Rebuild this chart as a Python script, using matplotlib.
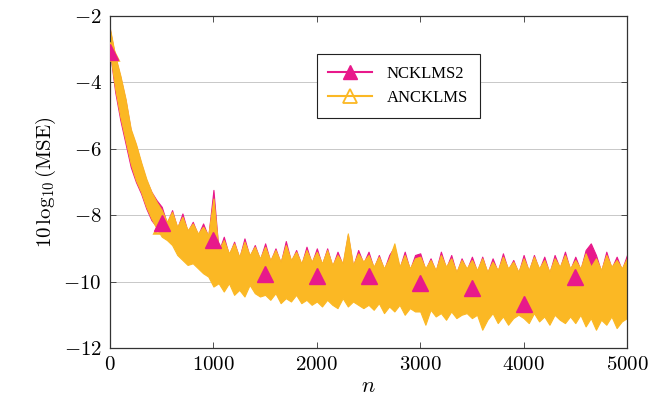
import matplotlib
matplotlib.use("Agg")
import matplotlib.pyplot as plt
from matplotlib.lines import Line2D

plt.rcParams['mathtext.fontset'] = 'cm'
plt.rcParams['font.family'] = ['Liberation Serif', 'DejaVu Serif']

# the curves are very noisy (one sample per n), so each one is kept as the
# upper / lower edge of its noise band, read every 50 samples
n = list(range(0, 5001, 50))

nck_hi = [
    -2.45, -3.25, -3.85, -4.55, -5.45, -5.90, -6.45, -6.95, -7.30, -7.55,
    -7.75, -8.25, -7.85, -8.40, -7.95, -8.50, -8.20, -8.60, -8.25, -8.65,
    -7.24, -9.10, -8.65, -9.20, -8.80, -9.30, -8.70, -9.25, -8.90, -9.35,
    -8.85, -9.40, -9.00, -9.45, -8.78, -9.40, -9.05, -9.50, -8.95, -9.45,
    -9.00, -9.50, -9.00, -9.55, -9.10, -9.50, -8.60, -9.55, -9.05, -9.45,
    -9.10, -9.60, -9.20, -9.65, -9.20, -8.95, -9.60, -9.10, -9.65, -9.20,
    -9.15, -9.65, -9.30, -9.70, -9.10, -9.60, -9.20, -9.75, -9.30, -9.65,
    -9.25, -9.70, -9.25, -9.75, -9.30, -9.70, -9.15, -9.65, -9.35, -9.75,
    -9.20, -9.70, -9.20, -9.65, -9.25, -9.75, -9.20, -9.60, -9.10, -9.65,
    -9.25, -9.65, -9.05, -8.85, -9.20, -9.70, -9.10, -9.60, -9.25, -9.65,
    -9.20,
]
nck_lo = [
    -3.10, -4.30, -5.15, -5.85, -6.55, -7.00, -7.35, -7.80, -8.15, -8.35,
    -8.50, -8.60, -8.75, -9.00, -9.15, -9.30, -9.25, -9.40, -9.55, -9.65,
    -9.95, -9.85, -10.10, -9.85, -10.20, -10.05, -10.25, -9.90, -10.15, -10.25,
    -10.20, -10.35, -10.15, -10.45, -10.30, -10.40, -10.20, -10.45, -10.35, -10.50,
    -10.40, -10.55, -10.35, -10.50, -10.60, -10.30, -10.55, -10.40, -10.50, -10.60,
    -10.50, -10.65, -10.45, -10.75, -10.55, -10.70, -10.50, -10.80, -10.60, -10.70,
    -10.70, -11.10, -10.65, -10.85, -10.75, -10.95, -10.70, -10.90, -10.80, -10.75,
    -10.90, -10.80, -11.25, -10.95, -10.75, -11.05, -10.85, -11.10, -10.90, -10.80,
    -10.90, -11.05, -10.75, -11.00, -10.85, -11.10, -10.80, -10.95, -11.05, -10.85,
    -11.05, -10.80, -11.15, -10.90, -11.25, -10.95, -11.10, -10.85, -11.20, -11.00,
    -10.90,
]

anc_hi = [
    -2.40, -3.20, -3.80, -4.50, -5.40, -5.85, -6.40, -6.90, -7.30, -7.60,
    -7.85, -8.20, -7.90, -8.35, -8.05, -8.45, -8.25, -8.55, -8.35, -8.60,
    -7.50, -9.05, -8.75, -9.15, -8.85, -9.25, -8.80, -9.20, -8.95, -9.30,
    -8.95, -9.35, -9.05, -9.40, -8.90, -9.35, -9.10, -9.45, -9.05, -9.40,
    -9.10, -9.45, -9.05, -9.50, -9.20, -9.45, -8.55, -9.50, -9.15, -9.40,
    -9.20, -9.55, -9.25, -9.60, -9.30, -8.85, -9.55, -9.20, -9.60, -9.30,
    -9.25, -9.60, -9.35, -9.65, -9.20, -9.55, -9.30, -9.70, -9.35, -9.60,
    -9.35, -9.65, -9.30, -9.70, -9.40, -9.65, -9.25, -9.60, -9.40, -9.70,
    -9.30, -9.65, -9.25, -9.60, -9.35, -9.70, -9.30, -9.55, -9.20, -9.60,
    -9.35, -9.60, -9.15, -9.55, -9.30, -9.65, -9.20, -9.55, -9.35, -9.60,
    -9.30,
]
anc_lo = [
    -3.10, -4.20, -5.05, -5.75, -6.45, -6.95, -7.30, -7.75, -8.10, -8.40,
    -8.65, -8.75, -8.90, -9.20, -9.35, -9.50, -9.45, -9.60, -9.75, -9.85,
    -10.15, -10.05, -10.30, -10.05, -10.40, -10.25, -10.45, -10.10, -10.35, -10.45,
    -10.40, -10.55, -10.35, -10.65, -10.50, -10.60, -10.40, -10.65, -10.55, -10.70,
    -10.60, -10.75, -10.55, -10.70, -10.80, -10.50, -10.75, -10.60, -10.70, -10.80,
    -10.70, -10.85, -10.65, -10.95, -10.75, -10.90, -10.70, -11.00, -10.80, -10.90,
    -10.90, -11.30, -10.85, -11.05, -10.95, -11.15, -10.90, -11.10, -11.00, -10.95,
    -11.10, -11.00, -11.45, -11.15, -10.95, -11.25, -11.05, -11.30, -11.10, -11.00,
    -11.10, -11.25, -10.95, -11.20, -11.05, -11.30, -11.00, -11.15, -11.25, -11.05,
    -11.25, -11.00, -11.35, -11.10, -11.45, -11.15, -11.30, -11.05, -11.40, -11.20,
    -11.10,
]

# curve values at the marked samples
mark_n = [0, 500, 1000, 1500, 2000, 2500, 3000, 3500, 4000, 4500]
nck_mark = [-3.10, -8.25, -8.75, -9.78, -9.83, -9.82, -10.05, -10.20, -10.68, -9.85]
anc_mark = [-3.10, -8.30, -9.40, -9.75, -9.90, -9.95, -10.10, -10.25, -10.45, -10.20]

labels = ['NCKLMS2', 'ANCKLMS']
x_ticks = [0, 1000, 2000, 3000, 4000, 5000]
y_ticks = [-12, -10, -8, -6, -4, -2]

magenta = '#e8198b'
orange = '#fbb824'

fig = plt.figure(figsize=(6.67, 4.07), dpi=100)
ax = fig.add_axes([0.165, 0.145, 0.775, 0.816])

ax.fill_between(n, nck_lo, nck_hi, color=magenta, lw=0.8, zorder=2)
ax.fill_between(n, anc_lo, anc_hi, color=orange, lw=0.8, zorder=2.1)
ax.plot(mark_n, anc_mark, ls='none', marker='^', ms=12, mfc='none', mec=orange, mew=1.8,
        zorder=2.95)
ax.plot(mark_n, nck_mark, ls='none', marker='^', ms=11, color=magenta, zorder=3)

ax.set_xlim(0, 5000)
ax.set_ylim(-12, -2)
ax.set_xticks(x_ticks)
ax.set_xticklabels(['$%d$' % v for v in x_ticks], fontsize=15)
ax.set_yticks(y_ticks)
ax.set_yticklabels(['$%d$' % v for v in y_ticks], fontsize=15)
ax.tick_params(direction='in', length=4, width=0.6, top=True, right=True, colors='#333333',
               labelcolor='black', pad=6)
ax.yaxis.grid(True, color='#c8c8c8', lw=0.7)
ax.set_axisbelow(True)
for s in ax.spines.values():
    s.set_linewidth(0.9)
    s.set_color('#333333')

ax.set_xlabel('$n$', fontsize=16, labelpad=2)
ax.set_ylabel(r'$10\,\log_{10}(\mathrm{MSE})$', fontsize=15, labelpad=4)

handles = [
    Line2D([], [], color=magenta, lw=1.5, marker='^', ms=10),
    Line2D([], [], color=orange, lw=1.5, marker='^', ms=10, mfc='none', mew=1.3),
]
leg = ax.legend(handles, labels, loc='upper left', bbox_to_anchor=(0.40, 0.885),
                fontsize=12, frameon=True, fancybox=False, framealpha=1,
                edgecolor='#222222', borderpad=0.7, handlelength=2.6, labelspacing=0.5,
                handletextpad=0.9, borderaxespad=0)
leg.get_frame().set_linewidth(0.8)

fig.savefig('out.png', dpi=100)
